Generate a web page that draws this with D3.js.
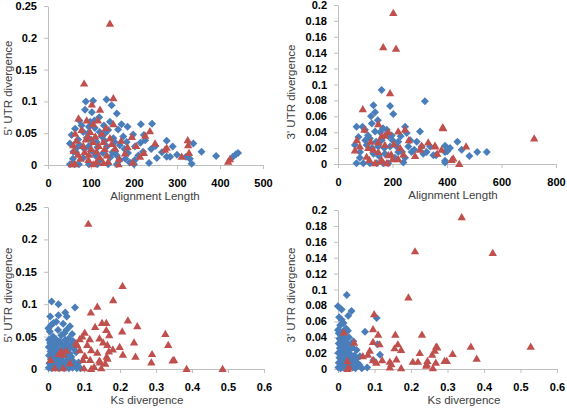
<!DOCTYPE html>
<html><head><meta charset="utf-8">
<script src="https://cdn.jsdelivr.net/npm/d3@7"></script>
<style>body{margin:0;background:#fff}svg{display:block}</style>
</head><body><svg id="c" width="567" height="410"></svg>
<script>
// ---- data ----
const tlBlue=[[88,0.100],[105,0.101],[136,0.103],[148,0.094],[86,0.087],[102,0.083],[160,0.081],[119,0.075],[73,0.070],[98,0.068],[144,0.068],[171,0.064],[216,0.064],[242,0.065],[63,0.057],[109,0.058],[163,0.056],[82,0.052],[133,0.050],[198,0.048],[223,0.047],[55,0.047],[90,0.043],[152,0.042],[113,0.036],[183,0.036],[226,0.039],[276,0.038],[51,0.034],[74,0.031],[137,0.029],[167,0.031],[202,0.029],[290,0.029],[338,0.034],[59,0.021],[102,0.022],[128,0.019],[156,0.021],[186,0.019],[221,0.021],[357,0.021],[253,0.011],[284,0.013],[82,0.011],[121,0.008],[167,0.008],[202,0.008],[276,0.013],[321,0.013],[391,0.014],[430,0.013],[437,0.017],[442,0.019],[51,0.001],[62,0.001],[72,0.001],[95,0.001],[115,0.001],[140,0.001],[160,0.001],[200,0.001],[235,0.003],[334,0.002],[70,0.040],[95,0.030],[125,0.045],[140,0.055],[178,0.025],[110,0.015],[65,0.020],[145,0.012],[190,0.004],[130,0.062],[93,0.050],[115,0.028],[155,0.036],[210,0.015],[240,0.025],[300,0.016],[330,0.010],[78,0.062],[58,0.010],[85,0.025],[100,0.040],[120,0.052],[132,0.038],[150,0.020],[175,0.045],[185,0.060],[95,0.060],[68,0.028],[108,0.070],[160,0.015],[215,0.035],[250,0.030],[265,0.020],[180,0.010]];
const tlRed=[[144,0.222],[84,0.128],[152,0.105],[102,0.095],[121,0.087],[71,0.073],[90,0.070],[116,0.070],[105,0.064],[152,0.064],[237,0.053],[63,0.049],[125,0.049],[94,0.044],[144,0.042],[195,0.044],[226,0.046],[105,0.036],[129,0.036],[249,0.034],[59,0.031],[82,0.030],[156,0.026],[276,0.027],[113,0.021],[70,0.016],[137,0.015],[179,0.018],[214,0.013],[94,0.008],[113,0.005],[63,0.001],[105,0.001],[129,0.003],[164,0.001],[55,0.001],[325,0.039],[326,0.031],[328,0.019],[311,0.013],[223,0.019],[272,0.024],[423,0.009],[419,0.005],[197,0.004],[88,0.040],[135,0.058],[100,0.025],[75,0.010],[165,0.010],[120,0.012],[205,0.030],[66,0.038],[78,0.055],[98,0.052],[110,0.045],[118,0.030],[132,0.025],[148,0.033],[170,0.038],[185,0.028],[85,0.020],[60,0.022],[140,0.005],[95,0.016]];
const trBlue=[[160,0.093],[319,0.079],[130,0.074],[136,0.065],[191,0.073],[203,0.063],[121,0.060],[146,0.055],[124,0.051],[179,0.043],[246,0.047],[99,0.043],[136,0.041],[197,0.036],[252,0.039],[75,0.034],[117,0.032],[160,0.030],[221,0.028],[289,0.028],[62,0.024],[105,0.024],[148,0.022],[191,0.022],[258,0.022],[307,0.022],[325,0.015],[270,0.015],[221,0.015],[81,0.015],[130,0.013],[172,0.013],[350,0.011],[393,0.015],[246,0.008],[209,0.008],[393,0.004],[68,0.001],[93,0.001],[117,0.001],[142,0.001],[166,0.001],[184,0.001],[438,0.028],[393,0.023],[411,0.020],[401,0.016],[454,0.018],[482,0.010],[511,0.015],[546,0.015],[393,0.002],[313,0.013],[360,0.011],[301,0.041],[338,0.022],[90,0.047],[110,0.036],[155,0.040],[230,0.035],[280,0.018],[200,0.030],[170,0.020],[240,0.002],[68,0.047],[80,0.008],[100,0.030],[125,0.020],[140,0.028],[165,0.045],[185,0.035],[215,0.022],[235,0.015],[265,0.030],[150,0.010]];
const trRed=[[203,0.190],[166,0.147],[213,0.145],[191,0.089],[91,0.069],[148,0.050],[386,0.045],[97,0.043],[221,0.041],[246,0.043],[331,0.027],[69,0.030],[172,0.036],[148,0.027],[111,0.020],[172,0.024],[228,0.020],[301,0.018],[356,0.022],[62,0.017],[148,0.015],[185,0.011],[105,0.009],[283,0.010],[160,0.005],[136,0.001],[179,0.001],[221,0.006],[417,0.005],[384,0.046],[356,0.023],[307,0.023],[380,0.018],[470,0.022],[364,0.013],[423,0.007],[445,0.000],[720,0.032],[120,0.028],[195,0.012],[155,0.003],[260,0.030],[80,0.022],[130,0.018],[160,0.035],[185,0.040],[205,0.025],[240,0.012],[115,0.005],[200,0.006]];
const blBlue=[[0.010,0.104],[0.029,0.100],[0.075,0.095],[0.048,0.087],[0.006,0.081],[0.029,0.083],[0.052,0.081],[0.023,0.073],[0.015,0.071],[0.042,0.070],[0.061,0.066],[0.009,0.068],[0.001,0.063],[0.028,0.060],[0.051,0.060],[0.005,0.058],[0.067,0.054],[0.037,0.052],[0.014,0.050],[0.045,0.055],[0.003,0.045],[0.012,0.044],[0.022,0.046],[0.032,0.043],[0.048,0.045],[0.058,0.047],[0.070,0.043],[0.006,0.040],[0.017,0.038],[0.027,0.039],[0.040,0.037],[0.052,0.040],[0.063,0.036],[0.002,0.034],[0.011,0.032],[0.021,0.033],[0.035,0.031],[0.046,0.033],[0.056,0.030],[0.072,0.031],[0.007,0.027],[0.016,0.026],[0.026,0.028],[0.044,0.025],[0.060,0.024],[0.078,0.026],[0.003,0.021],[0.013,0.020],[0.023,0.019],[0.036,0.018],[0.050,0.020],[0.065,0.019],[0.008,0.015],[0.019,0.014],[0.030,0.013],[0.042,0.012],[0.055,0.014],[0.070,0.012],[0.004,0.009],[0.014,0.008],[0.025,0.007],[0.036,0.006],[0.048,0.008],[0.060,0.006],[0.075,0.005],[0.002,0.002],[0.010,0.001],[0.020,0.002],[0.031,0.001],[0.045,0.001],[0.058,0.001],[0.068,0.002],[0.080,0.001],[0.090,0.001],[0.085,0.010]];
const blRed=[[0.112,0.224],[0.207,0.128],[0.181,0.106],[0.137,0.096],[0.119,0.087],[0.222,0.075],[0.150,0.071],[0.162,0.071],[0.248,0.066],[0.131,0.065],[0.162,0.060],[0.102,0.056],[0.206,0.058],[0.326,0.054],[0.143,0.047],[0.088,0.046],[0.116,0.046],[0.153,0.041],[0.239,0.041],[0.081,0.037],[0.109,0.037],[0.165,0.037],[0.334,0.037],[0.199,0.034],[0.088,0.029],[0.120,0.029],[0.137,0.025],[0.169,0.027],[0.208,0.022],[0.243,0.019],[0.289,0.023],[0.037,0.027],[0.051,0.028],[0.042,0.022],[0.102,0.020],[0.165,0.016],[0.097,0.014],[0.143,0.013],[0.287,0.010],[0.159,0.008],[0.100,0.001],[0.120,0.000],[0.148,0.001],[0.019,0.001],[0.042,0.001],[0.007,0.014],[0.346,0.013],[0.350,0.014],[0.385,0.000],[0.485,0.000],[0.170,0.052],[0.078,0.040],[0.163,0.019],[0.144,0.010],[0.061,0.009],[0.030,0.023],[0.095,0.050],[0.128,0.003],[0.180,0.030],[0.117,0.014]];
const brBlue=[[0.024,0.093],[0.000,0.079],[0.010,0.075],[0.037,0.073],[0.028,0.067],[0.106,0.064],[0.010,0.062],[0.000,0.049],[0.022,0.051],[0.027,0.048],[0.074,0.047],[0.108,0.031],[0.115,0.018],[0.051,0.024],[0.060,0.016],[0.097,0.011],[0.055,0.007],[0.033,0.003],[0.059,0.005],[0.002,0.045],[0.008,0.042],[0.015,0.044],[0.004,0.038],[0.012,0.036],[0.020,0.039],[0.030,0.040],[0.002,0.032],[0.009,0.030],[0.017,0.031],[0.025,0.033],[0.035,0.030],[0.005,0.026],[0.013,0.025],[0.022,0.026],[0.031,0.024],[0.040,0.027],[0.001,0.020],[0.008,0.019],[0.016,0.020],[0.024,0.018],[0.033,0.019],[0.045,0.017],[0.004,0.014],[0.011,0.013],[0.019,0.012],[0.028,0.014],[0.038,0.012],[0.050,0.013],[0.002,0.008],[0.009,0.007],[0.017,0.008],[0.026,0.006],[0.036,0.007],[0.046,0.009],[0.001,0.002],[0.007,0.001],[0.014,0.002],[0.021,0.001],[0.030,0.001],[0.040,0.002],[0.048,0.001],[0.065,0.001],[0.080,0.002],[0.042,0.035],[0.006,0.055],[0.015,0.058],[0.003,0.065],[0.012,0.047]];
const brRed=[[0.339,0.191],[0.424,0.146],[0.211,0.148],[0.193,0.090],[0.099,0.069],[0.096,0.050],[0.110,0.043],[0.157,0.043],[0.230,0.043],[0.096,0.034],[0.044,0.033],[0.016,0.046],[0.114,0.031],[0.164,0.031],[0.155,0.026],[0.173,0.024],[0.269,0.028],[0.265,0.023],[0.087,0.023],[0.224,0.020],[0.082,0.018],[0.068,0.016],[0.258,0.018],[0.026,0.010],[0.096,0.011],[0.121,0.011],[0.160,0.012],[0.205,0.009],[0.219,0.009],[0.245,0.010],[0.292,0.010],[0.105,0.008],[0.142,0.009],[0.146,0.006],[0.142,0.002],[0.173,0.001],[0.026,0.000],[0.242,0.004],[0.260,0.001],[0.528,0.028],[0.364,0.028],[0.272,0.027],[0.380,0.013],[0.314,0.019],[0.298,0.010],[0.268,0.008],[0.243,0.006],[0.030,0.002]];

const xTicksLenA=[0,100,200,300,400,500];
const xTicksLenB=[0,200,400,600,800];
const xTicksKs=[0,0.1,0.2,0.3,0.4,0.5,0.6];
const yTicks5=[0,0.05,0.1,0.15,0.2,0.25];
const yTicks3=[0,0.02,0.04,0.06,0.08,0.1,0.12,0.14,0.16,0.18,0.2];
const xTitles=["Alignment Length","Alignment Length","Ks divergence","Ks divergence"];
const yTitles=["5' UTR divergence","3' UTR divergence","5' UTR divergence","3' UTR divergence"];

// ---- layout ----
const panels=[
 {blue:tlBlue,red:tlRed,xT:xTicksLenA,yT:yTicks5,x0:48,x1:263,yTop:6,yBot:165,xTitle:xTitles[0],yTitle:yTitles[0],xtx:155,ytx:9,yty:88},
 {blue:trBlue,red:trRed,xT:xTicksLenB,yT:yTicks3,x0:338,x1:556,yTop:5,yBot:164,xTitle:xTitles[1],yTitle:yTitles[1],xtx:453,ytx:292,yty:92},
 {blue:blBlue,red:blRed,xT:xTicksKs,yT:yTicks5,x0:48,x1:264,yTop:207,yBot:369,xTitle:xTitles[2],yTitle:yTitles[2],xtx:147,ytx:9,yty:295},
 {blue:brBlue,red:brRed,xT:xTicksKs,yT:yTicks3,x0:338,x1:557,yTop:210,yBot:369,xTitle:xTitles[3],yTitle:yTitles[3],xtx:464,ytx:292,yty:295}
];
const svg=d3.select("#c");
const fmt=d=>String(+d.toFixed(3));
const diamond="M0,-4L4,0L0,4L-4,0Z";
const tri="M0,-4.2L4.2,3L-4.2,3Z";
const FF="'Liberation Sans',Arial,sans-serif";
panels.forEach(p=>{
  const x=d3.scaleLinear().domain([p.xT[0],p.xT[p.xT.length-1]]).range([p.x0,p.x1]);
  const y=d3.scaleLinear().domain([p.yT[0],p.yT[p.yT.length-1]]).range([p.yBot,p.yTop]);
  const gy=svg.append("g").attr("transform",`translate(${p.x0},0)`)
    .call(d3.axisLeft(y).tickValues(p.yT).tickFormat(fmt).tickSize(4).tickSizeOuter(0).tickPadding(7));
  const gx=svg.append("g").attr("transform",`translate(0,${p.yBot})`)
    .call(d3.axisBottom(x).tickValues(p.xT).tickFormat(fmt).tickSize(4).tickSizeOuter(0).tickPadding(10));
  [gx,gy].forEach(g=>{
    g.select(".domain").attr("stroke","#bfbfbf");
    g.selectAll(".tick line").attr("stroke","#bfbfbf");
    g.selectAll(".tick text").attr("fill","#000").style("font-family",FF).style("font-size","11px").style("font-weight","bold");
  });
  svg.append("g").selectAll("path").data(p.blue).join("path")
    .attr("d",diamond).attr("fill","#4a7ebb")
    .attr("transform",d=>`translate(${x(d[0])},${y(d[1])})`);
  svg.append("g").selectAll("path").data(p.red).join("path")
    .attr("d",tri).attr("fill","#c0504d")
    .attr("transform",d=>`translate(${x(d[0])},${y(d[1])})`);
  svg.append("text").attr("x",p.xtx).attr("y",p.yBot+35).attr("text-anchor","middle")
    .style("font-family",FF).style("font-size","11.5px").attr("fill","#404040").text(p.xTitle);
  svg.append("text").attr("transform",`translate(${p.ytx+3},${p.yty}) rotate(-90)`).attr("text-anchor","middle")
    .style("font-family",FF).style("font-size","11.5px").attr("fill","#404040").text(p.yTitle);
});
</script></body></html>
